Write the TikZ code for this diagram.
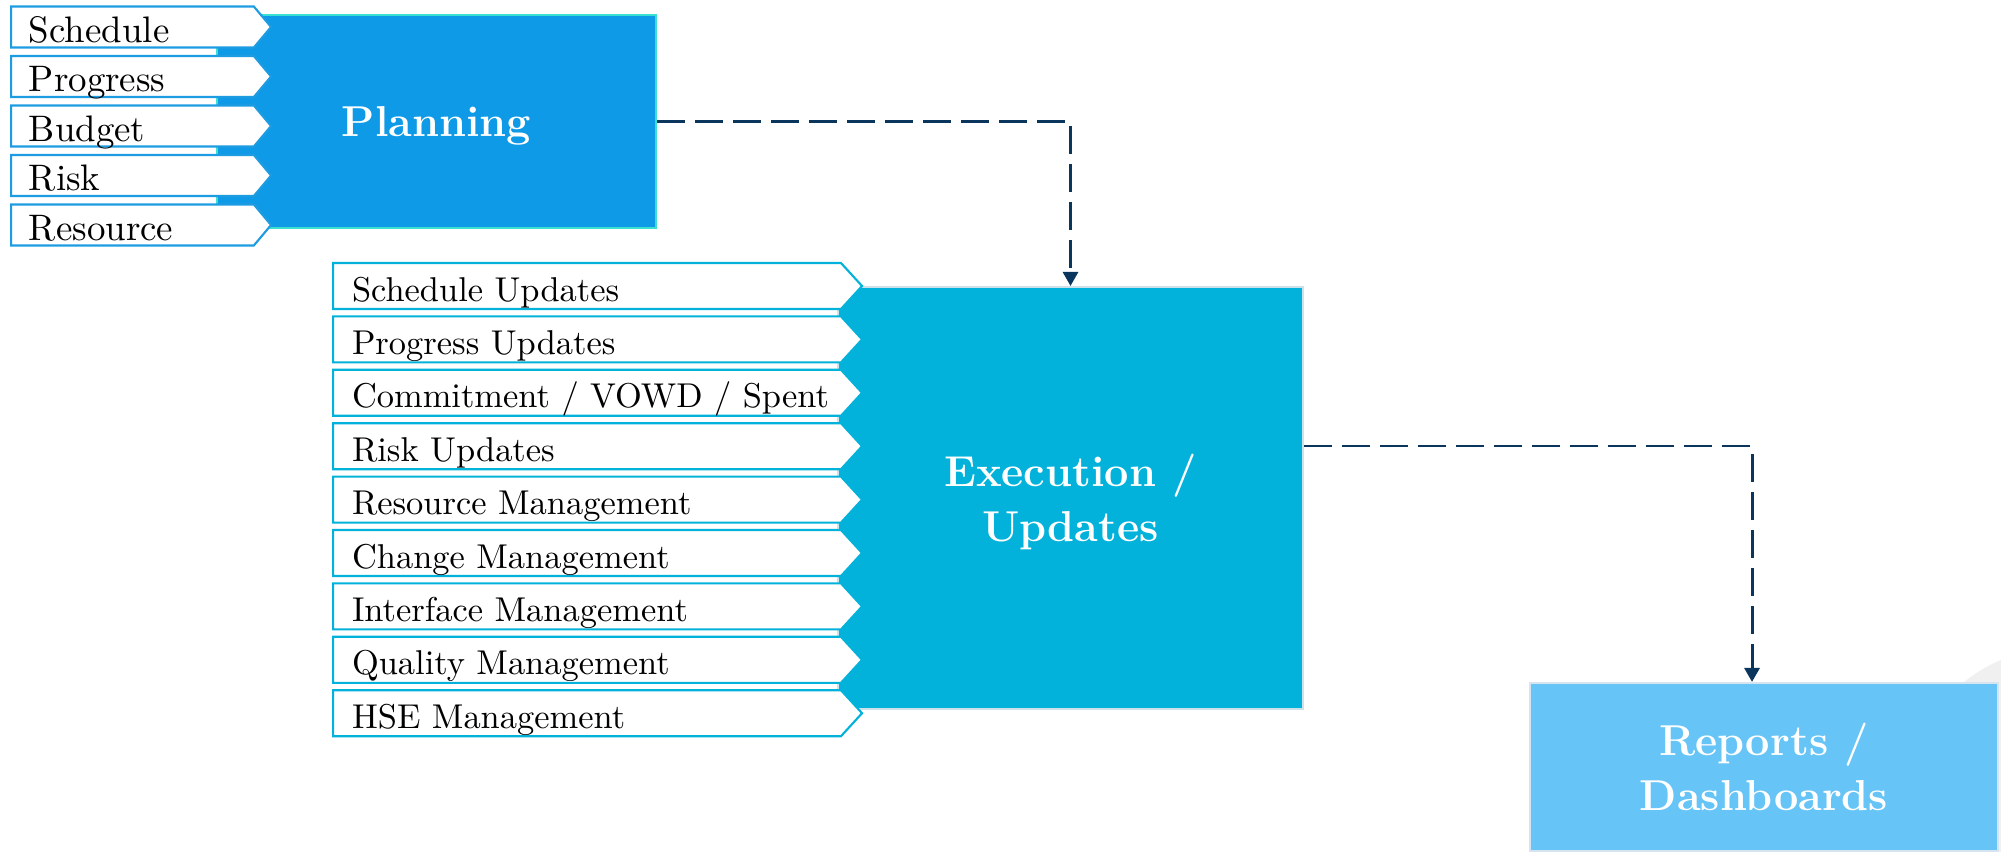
\documentclass[tikz,border=0pt]{standalone}
\usepackage{tikz}
\usetikzlibrary{shapes.symbols}
\usetikzlibrary{arrows.meta}
\usetikzlibrary{positioning}

\definecolor{planblue}{RGB}{14,154,230}
\definecolor{planedge}{RGB}{60,224,208}
\definecolor{tagedge}{RGB}{30,156,226}
\definecolor{execblue}{RGB}{2,178,218}
\definecolor{execedge}{RGB}{205,225,235}
\definecolor{repblue}{RGB}{102,196,246}
\definecolor{repedge}{RGB}{214,228,240}
\definecolor{linkblue}{RGB}{10,54,94}

\tikzset{
  box/.style={rectangle, text=white, line width=0.6pt, align=center, inner sep=0pt,
    text depth=0pt, font=\fontsize{12.3}{15.8}\selectfont\bfseries},
  tagbase/.style={signal, signal to=east, fill=white, line width=0.6pt,
    inner xsep=0pt, inner ysep=0pt, text height=0.86em, text depth=0pt, anchor=west},
  plantag/.style={tagbase, draw=tagedge, signal pointer angle=100,
    minimum width=2.60cm, minimum height=0.41cm,
    font=\fontsize{10.5}{12}\selectfont},
  exetag/.style={tagbase, draw=execblue, signal pointer angle=95,
    minimum width=5.29cm, minimum height=0.46cm,
    font=\fontsize{9.8}{12}\selectfont},
  link/.style={draw=linkblue, line width=0.85pt, dash pattern=on 0.28cm off 0.10cm,
    -{Triangle[length=0.14cm,width=0.15cm]}}
}

\begin{document}
\begin{tikzpicture}
  \useasboundingbox (0,0) rectangle (20.01,8.51);

  % faint disc behind the reports box
  \begin{scope}
    \clip (0,0) rectangle (20.01,8.51);
    \fill[gray!12] (20.60,0.51) circle (1.52);
  \end{scope}

  \node[box, fill=planblue, draw=planedge, minimum width=4.39cm, minimum height=2.13cm]
    (plan) at (4.365,7.295) {Planning};
  \node[box, fill=execblue, draw=execedge, minimum width=4.65cm, minimum height=4.22cm]
    (exe) at (10.705,3.53) {Execution /\\Updates};
  \node[box, fill=repblue, draw=repedge, minimum width=4.68cm, minimum height=1.68cm]
    (rep) at (17.64,0.84) {Reports /\\Dashboards};

  \foreach \i/\lab in {0/Schedule, 1/Progress, 2/Budget, 3/Risk, 4/Resource} {
    \node[plantag] (ptag\i) at (0.10, 8.24-0.495*\i) {\makebox[2.07cm][l]{\lab}};
  }

  \foreach \i/\lab in {0/{Schedule Updates}, 1/{Progress Updates},
      2/{Commitment / VOWD / Spent}, 3/{Risk Updates}, 4/{Resource Management},
      5/{Change Management}, 6/{Interface Management}, 7/{Quality Management},
      8/{HSE Management}} {
    \node[exetag] (etag\i) at (3.32, 5.65-0.534*\i) {\makebox[4.70cm][l]{\lab}};
  }

  \draw[link] (plan.east) -| (exe.north);
  \draw[link] ([yshift=0.52cm]exe.east) -| ([xshift=-0.12cm]rep.north);
\end{tikzpicture}
\end{document}
